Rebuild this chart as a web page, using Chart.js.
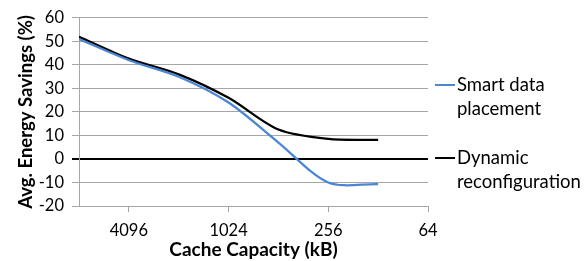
<!DOCTYPE html>
<html>
<head>
<meta charset="utf-8">
<script src="https://cdn.jsdelivr.net/npm/chart.js@4"></script>
<style>
  html, body { margin: 0; padding: 0; background: #fff; }
  #wrap { width: 585px; height: 261px; }
</style>
</head>
<body>
<div id="wrap"><canvas id="chart" width="585" height="261"></canvas></div>
<script>
// ค่าที่อ่านจากภาพ
const capacities = [8192, 4096, 2048, 1024, 512, 256, 128];
const smartPlacement = [51, 42, 35, 24, 7, -10, -10.7];
const dynamicReconfig = [52, 42.7, 36, 26, 12.5, 8.5, 8.1];
const xTickValues = [4096, 1024, 256, 64];
const seriesLabels = ["Smart data placement", "Dynamic reconfiguration"];
const seriesColors = ["#4a86d4", "#000000"];

const FONT = "Lato, 'Open Sans', sans-serif";

function toPoints(values) {
    return capacities.map((c, i) => ({ x: c, y: values[i] }));
}

// legend แบบตัดบรรทัดเหมือน Excel
const wrapLegend = {
    id: "wrapLegend",
    afterDraw(chart) {
        const ctx = chart.ctx;
        const left = chart.chartArea.right + 7;
        const startY = [85, 158];
        ctx.save();
        ctx.font = "18.5px " + FONT;
        ctx.fillStyle = "#000";
        ctx.textBaseline = "middle";
        chart.data.datasets.forEach((ds, i) => {
            const y = startY[i];
            ctx.strokeStyle = ds.borderColor;
            ctx.lineWidth = 2;
            ctx.beginPath();
            ctx.moveTo(left, y);
            ctx.lineTo(left + 20, y);
            ctx.stroke();
            // ตัดคำ
            const words = ds.label.split(" ");
            const lines = [];
            let cur = "";
            words.forEach(w => {
                const test = cur ? cur + " " + w : w;
                if (cur && ctx.measureText(test).width > 125) {
                    lines.push(cur);
                    cur = w;
                } else {
                    cur = test;
                }
            });
            if (cur) lines.push(cur);
            lines.forEach((ln, k) => ctx.fillText(ln, left + 22, y + k * 24.5));
        });
        ctx.restore();
    }
};

new Chart(document.getElementById("chart"), {
    type: "line",
    data: {
        datasets: [
            {
                label: seriesLabels[0],
                data: toPoints(smartPlacement),
                borderColor: seriesColors[0],
                borderWidth: 2.25,
                pointRadius: 0,
                tension: 0.3,
                fill: false
            },
            {
                label: seriesLabels[1],
                data: toPoints(dynamicReconfig),
                borderColor: seriesColors[1],
                borderWidth: 2.25,
                pointRadius: 0,
                tension: 0.3,
                fill: false
            }
        ]
    },
    options: {
        responsive: false,
        animation: false,
        events: [],
        layout: { padding: { top: 9, right: 157, left: 15, bottom: 0 } },
        plugins: {
            legend: { display: false },
            tooltip: { enabled: false }
        },
        scales: {
            x: {
                type: "logarithmic",
                reverse: true,
                min: 64,
                max: 8192,
                afterBuildTicks: (scale) => {
                    scale.ticks = xTickValues.map(v => ({ value: v }));
                },
                afterFit: (scale) => { scale.height = 55; },
                grid: {
                    drawOnChartArea: false,
                    drawTicks: true,
                    tickLength: 6,
                    color: "#a6a6a6"
                },
                border: { display: true, color: "#a6a6a6" },
                ticks: {
                    autoSkip: false,
                    maxRotation: 0,
                    padding: 9,
                    color: "#000",
                    font: { family: FONT, size: 16.5 },
                    callback: (v) => String(v)
                },
                title: {
                    display: true,
                    text: "Cache Capacity (kB)",
                    color: "#000",
                    font: { family: FONT, size: 19, weight: "bold" },
                    padding: { top: 4, bottom: 0 }
                }
            },
            y: {
                min: -20,
                max: 60,
                afterFit: (scale) => { scale.width = 64; },
                ticks: {
                    stepSize: 10,
                    padding: 8,
                    color: "#000",
                    font: { family: FONT, size: 16.5 }
                },
                grid: {
                    tickLength: 7,
                    color: (c) => c.tick && c.tick.value === 0 ? "#000" : "#a6a6a6",
                    lineWidth: (c) => c.tick && c.tick.value === 0 ? 2 : 1
                },
                border: { display: true, color: "#a6a6a6" },
                title: {
                    display: true,
                    text: "Avg. Energy Savings (%)",
                    color: "#000",
                    font: { family: FONT, size: 18.5, weight: "bold" },
                    padding: { top: 0, bottom: 2 }
                }
            }
        }
    },
    plugins: [wrapLegend]
});
</script>
</body>
</html>
